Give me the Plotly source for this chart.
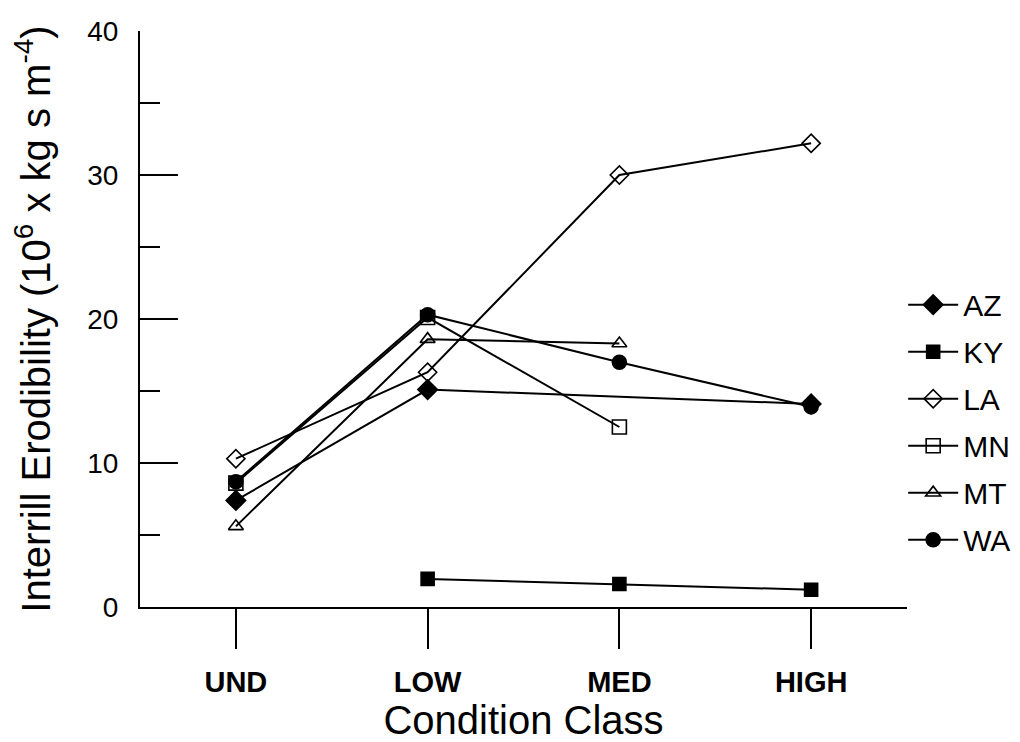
import plotly.graph_objects as go

categories = ["UND", "LOW", "MED", "HIGH"]
AZ = [7.4, 15.1, None, 14.1]
KY = [None, 1.95, 1.6, 1.2]
LA = [10.3, 16.3, 30.0, 32.2]
MN = [8.6, 20.1, 12.5, None]
MT = [5.6, 18.6, 18.3, None]
WA = [8.7, 20.3, 17.0, 13.9]

series = [
    ("AZ", AZ, "diamond", 15),
    ("KY", KY, "square", 13),
    ("LA", LA, "diamond-open", 14),
    ("MN", MN, "square-open", 14),
    ("MT", MT, "triangle-up-open", 13),
    ("WA", WA, "circle", 14),
]

FONT = "Liberation Sans, Arial, sans-serif"
fig = go.Figure()
for i, (name, vals, sym, sz) in enumerate(series):
    xs = [c for c, v in zip(categories, vals) if v is not None]
    ys = [v for v in vals if v is not None]
    fig.add_trace(go.Scatter(
        x=xs, y=ys, name=name, mode="lines+markers",
        line=dict(color="black", width=2),
        marker=dict(symbol=sym, size=sz, color="black",
                    line=dict(color="black", width=1.6)),
        legendgroup=name,
    ))

fig.update_layout(
    width=1020, height=742,
    margin=dict(l=132, r=118, t=23, b=143),
    plot_bgcolor="white", paper_bgcolor="white",
    font=dict(family=FONT, color="black", size=28),
    showlegend=True,
    legend=dict(x=0.995, y=0.57, xanchor="left", yanchor="top",
                font=dict(size=30, family=FONT), tracegroupgap=5,
                itemwidth=50,
                bgcolor="rgba(0,0,0,0)"),
    xaxis=dict(
        type="category", categoryorder="array", categoryarray=categories,
        range=[-0.5, 3.5], showline=True, linecolor="black", linewidth=2,
        ticks="outside", ticklen=40, tickwidth=2, tickcolor="black",
        showgrid=False, zeroline=False, automargin=False,
        ticklabelstandoff=8,
        tickfont=dict(size=29, family=FONT, weight="bold"),
        title=dict(text="Condition Class", font=dict(size=40, family=FONT), standoff=2),
    ),
    yaxis=dict(
        range=[0, 40], showline=True, linecolor="black", linewidth=2,
        ticks="inside", ticklen=38, tickwidth=2, tickcolor="black",
        tickvals=[0, 10, 20, 30, 40],
        minor=dict(ticks="inside", ticklen=20, tickwidth=2, tickcolor="black",
                   tickvals=[5, 15, 25, 35], showgrid=False),
        showgrid=False, zeroline=False, automargin=False,
        ticklabelstandoff=14,
        tickfont=dict(size=28, family=FONT),
        title=dict(text="Interrill Erodibility (10<sup>6</sup> x kg s m<sup>-4</sup>)",
                   font=dict(size=40, family=FONT), standoff=28),
    ),
)

fig.write_html("out.html")
